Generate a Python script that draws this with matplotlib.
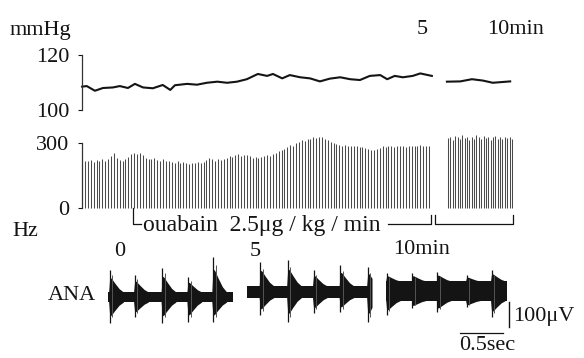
import numpy as np
import matplotlib
matplotlib.use("Agg")
import matplotlib.pyplot as plt

plt.rcParams["font.family"] = ["Liberation Serif", "DejaVu Serif"]
plt.rcParams["font.size"] = 16

W, H = 584, 358

# --- arterial pressure (mmHg), chart time in min ---
bp_t1 = [-0.86, -0.78, -0.64, -0.50, -0.33, -0.21, -0.07, 0.05, 0.19, 0.36,
         0.53, 0.66, 0.74, 0.95, 1.12, 1.29, 1.47, 1.64, 1.81, 1.98,
         2.17, 2.33, 2.43, 2.59, 2.72, 2.90, 3.07, 3.24, 3.41, 3.59,
         3.76, 3.93, 4.10, 4.28, 4.40, 4.53, 4.67, 4.84, 4.97, 5.17]
bp_v1 = [108.5, 108.7, 107.0, 108.0, 108.2, 108.7, 108.0, 109.5, 108.2, 107.9,
         109.1, 107.3, 109.0, 109.5, 109.2, 109.9, 110.3, 109.9, 110.3, 111.2,
         113.1, 112.4, 113.1, 111.5, 112.7, 111.9, 111.5, 110.4, 111.4, 111.9,
         111.2, 110.9, 112.4, 112.7, 111.2, 112.4, 111.9, 112.4, 113.3, 112.4]
bp_t2 = [5.43, 5.66, 5.86, 6.05, 6.22, 6.52]
bp_v2 = [110.3, 110.4, 111.2, 110.7, 109.9, 110.4]

# --- rate (Hz), one bar per cycle ---
hz_seg1 = [218, 215, 220, 212, 222, 218, 225, 216, 228, 240,
           255, 232, 222, 218, 226, 236, 248, 254, 250, 256,
           246, 232, 228, 224, 230, 222, 218, 224, 216, 218,
           214, 210, 216, 208, 212, 206, 204, 210, 206, 212,
           210, 214, 222, 230, 226, 218, 224, 222, 228, 232,
           240, 236, 244, 249, 240, 246, 245, 238, 232, 236,
           230, 234, 240, 245, 238, 250, 256, 262, 268, 272,
           280, 291, 286, 300, 306, 314, 308, 320, 318, 329,
           324, 330, 326, 320, 314, 303, 298, 294, 291, 288,
           291, 286, 284, 288, 285, 280, 282, 276, 272, 270,
           268, 272, 278, 285, 280, 284, 286, 282, 285, 288,
           285, 282, 286, 288, 284, 288, 290, 286, 288, 288]
hz_seg2 = [322, 330, 316, 334, 326, 318, 336, 324, 330, 314,
           328, 320, 336, 326, 318, 332, 324, 330, 316, 326,
           334, 320, 328, 318, 330, 322, 326, 318]
hz_span1 = (-0.81, 5.12)
hz_span2 = (5.45, 6.55)
ouabain_start = 0.0

# --- ANA bursts (uV), seconds within each 1.45 s snippet ---
ana_labels = ["0", "5", "10min"]
ana_seg_start = [0.0, 1.62, 3.23]
ana_seg_len = [1.45, 1.45, 1.41]
ana_band_top = [12, 36, 56]
ana_band_bot = [-28, -10, -22]
ana_burst_t = [[0.02, 0.31, 0.63, 0.93, 1.22],
               [0.15, 0.47, 0.77, 1.08, 1.40],
               [0.01, 0.31, 0.60, 0.94, 1.23]]
ana_burst_hi = [[100, 80, 108, 72, 152],
                [132, 140, 100, 120, 112],
                [88, 88, 92, 80, 100]]
ana_burst_lo = [[-112, -88, -112, -108, -108],
                [-80, -108, -72, -68, -108],
                [-80, -52, -68, -48, -88]]
SCALE_UV = 100
SCALE_S = 0.5

INK = "#141414"


def fx(x):
    return x / W


def fy(y):
    return 1 - y / H


fig = plt.figure(figsize=(W / 100, H / 100), dpi=100)

# chart-minute mapping: 0 min at px 132, 58 px/min
xlim_min = ((0 - 132) / 58, (W - 132) / 58)
spine_x = (82 - 132) / 58

# pressure panel
ax_bp = fig.add_axes([0, fy(125), 1, 85 / H])
ax_bp.set_xlim(*xlim_min)
ax_bp.set_ylim(100 - 15 / 2.75, 120 + 15 / 2.75)
ax_bp.plot(bp_t1, bp_v1, color=INK, lw=1.5)
ax_bp.plot(bp_t2, bp_v2, color=INK, lw=1.5)

# rate panel
ax_hz = fig.add_axes([0, fy(235), 1, 105 / H])
ax_hz.set_xlim(*xlim_min)
ax_hz.set_ylim(-(235 - 208) * 300 / 65, 300 + (143 - 130) * 300 / 65)
x1 = np.linspace(hz_span1[0], hz_span1[1], len(hz_seg1))
x2 = np.linspace(hz_span2[0], hz_span2[1], len(hz_seg2))
ax_hz.vlines(x1, 0, hz_seg1, color="#4a4a4a", lw=0.75)
ax_hz.vlines(x2, 0, hz_seg2, color="#4a4a4a", lw=0.75)

# ouabain brackets
yb, yt = -74, -32
ax_hz.plot([ouabain_start + 0.02] * 2 + [0.16], [0, yb, yb], color=INK, lw=0.9)
ax_hz.plot([4.42, hz_span1[1] + 0.035, hz_span1[1] + 0.035], [yb, yb, yt],
           color=INK, lw=0.9)
ax_hz.plot([hz_span1[1] + 0.105] * 2 + [hz_span2[1] + 0.02] * 2, [yt, yb, yb, yt],
           color=INK, lw=0.9)
ax_hz.text(0.19, yb - 30, "ouabain  2.5μg / kg / min", ha="left",
           va="baseline", fontsize=17, color=INK)

for ax, ticks in ((ax_bp, [100, 120]), (ax_hz, [0, 300])):
    for s in ("top", "right", "bottom"):
        ax.spines[s].set_visible(False)
    ax.spines["left"].set_position(("data", spine_x))
    ax.spines["left"].set_bounds(ticks[0], ticks[1])
    ax.spines["left"].set_linewidth(0.9)
    ax.spines["left"].set_color("#333333")
    ax.set_yticks(ticks)
    ax.set_yticklabels([str(t) for t in ticks])
    ax.tick_params(axis="y", length=3, width=0.8, pad=6, labelsize=16,
                   colors=INK)
    ax.set_xticks([])
    ax.patch.set_visible(False)

# ANA panel: 0 uV at px 295, 4 uV/px; 0 s at px 108, 86 px/s
ax_a = fig.add_axes([0, 0, 1, 120 / H])
ax_a.set_xlim((0 - 108) / 86, (W - 108) / 86)
ax_a.set_ylim(-(H - 295) * 4, (295 - 238) * 4)
ax_a.axis("off")

dt = np.array([-0.012, 0.0, 0.02, 0.06, 0.11, 0.16])
frac = np.array([0.0, 0.66, 0.62, 0.40, 0.15, 0.0])
for k in range(3):
    s0 = ana_seg_start[k]
    s1 = s0 + ana_seg_len[k]
    ax_a.fill_between([s0, s1], ana_band_bot[k], ana_band_top[k],
                      color=INK, lw=0)
    for tb, hi, lo in zip(ana_burst_t[k], ana_burst_hi[k], ana_burst_lo[k]):
        xs = np.clip(s0 + tb + dt, s0, s1)
        top = ana_band_top[k] + frac * (hi - ana_band_top[k])
        bot = ana_band_bot[k] + frac * (lo - ana_band_bot[k])
        ax_a.fill_between(xs, bot, top, color=INK, lw=0)
        ax_a.vlines([min(s0 + tb, s1)], lo, hi, color=INK, lw=0.9)
        ax_a.vlines([min(s0 + tb + 0.03, s1)], 0.8 * lo, 0.8 * hi,
                    color="#555555", lw=0.7)

# scale bars
sx = (509 - 108) / 86
ax_a.plot([sx, sx], [-28, -28 - SCALE_UV], color=INK, lw=1.0)
hx0 = (460 - 108) / 86
ax_a.plot([hx0, hx0 + SCALE_S], [-152, -152], color=INK, lw=0.9)

# texts
tk = dict(color=INK, fontsize=16)
fig.text(fx(10), fy(30), "mmHg", ha="left", va="center", **tk)
fig.text(fx(422), fy(30), "5", ha="center", va="center", **tk)
fig.text(fx(487), fy(30), "10min", ha="left", va="center", **tk)
fig.text(fx(12), fy(231), "Hz", ha="left", va="center", **tk)
fig.text(fx(48), fy(296), "ANA", ha="left", va="center", **tk)
fig.text(fx(120), fy(251), ana_labels[0], ha="center", va="center", **tk)
fig.text(fx(255), fy(251), ana_labels[1], ha="center", va="center", **tk)
fig.text(fx(393), fy(250), ana_labels[2], ha="left", va="center", **tk)
fig.text(fx(513), fy(316), "100μV", ha="left", va="center", **tk)
fig.text(fx(487), fy(345), "0.5sec", ha="center", va="center", **tk)

fig.savefig("out.png", dpi=100, facecolor="white")
